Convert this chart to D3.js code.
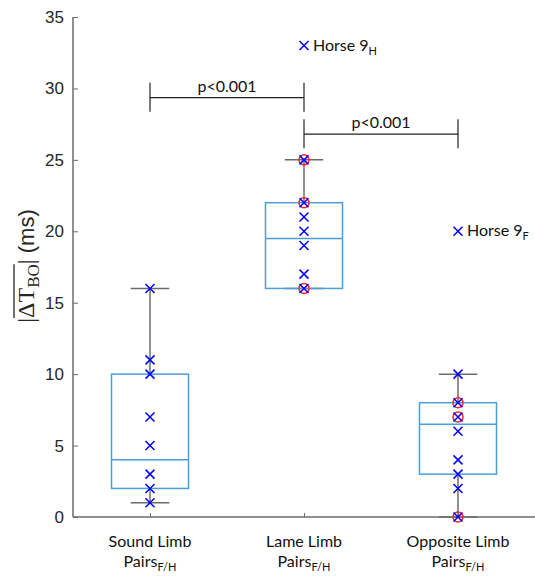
<!DOCTYPE html>
<html lang="en">
<head>
<meta charset="utf-8">
<style>
    html, body { margin: 0; padding: 0; background: #fff; }
    svg { display: block; }
    .tick text { font-family: "Liberation Sans", Arial, sans-serif; font-size: 17px; fill: #262626; }
    .note { font-family: Lato, "Open Sans", sans-serif; font-size: 16px; fill: #111; }
</style>
</head>
<body>
<script src="https://cdn.jsdelivr.net/npm/d3@7"></script>
<script>
(function () {
    var width = 535, height = 576;
    var margin = { left: 73, right: 0, top: 17, bottom: 59 };

    // groups and box stats
    var groups = ['Sound Limb', 'Lame Limb', 'Opposite Limb'];
    var boxQ1 = [2, 16, 3];
    var boxMedian = [4, 19.5, 6.5];
    var boxQ3 = [10, 22, 8];
    var whiskLow = [1, 16, 0];
    var whiskHigh = [16, 25, 10];

    // individual horses
    var soundPts = [1, 2, 3, 5, 7, 10, 11, 16];
    var lamePts = [16, 17, 19, 20, 21, 22, 25, 33];
    var oppositePts = [0, 2, 3, 4, 6, 7, 8, 10, 20];
    // overlapping values (circled)
    var lameDup = [16, 22, 25];
    var oppositeDup = [0, 7, 8];

    var yTicks = [0, 5, 10, 15, 20, 25, 30, 35];

    var svg = d3.select('body').append('svg')
        .attr('width', width)
        .attr('height', height);

    var x = d3.scaleLinear().domain([0.5, 3.5]).range([margin.left, width - margin.right]);
    var y = d3.scaleLinear().domain([0, 35]).range([height - margin.bottom, margin.top]);
    var unit = x(2) - x(1);

    // axes
    var yAxis = svg.append('g')
        .attr('transform', 'translate(' + margin.left + ',0)')
        .call(d3.axisLeft(y).tickValues(yTicks).tickSize(-5).tickPadding(9));
    var xAxis = svg.append('g')
        .attr('transform', 'translate(0,' + y(0) + ')')
        .call(d3.axisBottom(x).tickValues([1, 2, 3]).tickSize(-4).tickFormat(''));
    [yAxis, xAxis].forEach(function (a) {
        a.select('.domain').attr('stroke', '#6b6b6b').attr('stroke-width', 1.5);
        a.selectAll('.tick line').attr('stroke', '#6b6b6b');
    });
    yAxis.select('.domain').attr('d', 'M0,' + y(35) + 'V' + y(0));
    xAxis.select('.domain').attr('d', 'M' + x(0.5) + ',0H' + x(3.5));

    // box plots
    var g = svg.append('g');
    groups.forEach(function (name, i) {
        var cx = x(i + 1);
        var bw = unit * 0.25, cw = unit * 0.125;
        g.append('line').attr('x1', cx).attr('x2', cx)
            .attr('y1', y(boxQ3[i])).attr('y2', y(whiskHigh[i]))
            .attr('stroke', '#6b6b6b').attr('stroke-width', 1.5);
        g.append('line').attr('x1', cx).attr('x2', cx)
            .attr('y1', y(boxQ1[i])).attr('y2', y(whiskLow[i]))
            .attr('stroke', '#6b6b6b').attr('stroke-width', 1.5);
        [whiskLow[i], whiskHigh[i]].forEach(function (v) {
            g.append('line').attr('x1', cx - cw).attr('x2', cx + cw)
                .attr('y1', y(v)).attr('y2', y(v))
                .attr('stroke', '#6b6b6b').attr('stroke-width', 1.5);
        });
        g.append('rect')
            .attr('x', cx - bw).attr('width', 2 * bw)
            .attr('y', y(boxQ3[i])).attr('height', y(boxQ1[i]) - y(boxQ3[i]))
            .attr('fill', 'none').attr('stroke', '#4a9ede').attr('stroke-width', 1.5);
        g.append('line').attr('x1', cx - bw).attr('x2', cx + bw)
            .attr('y1', y(boxMedian[i])).attr('y2', y(boxMedian[i]))
            .attr('stroke', '#4a9ede').attr('stroke-width', 1.5);
    });

    // circles for overlapping points
    [[2, lameDup], [3, oppositeDup]].forEach(function (p) {
        g.selectAll(null).data(p[1]).enter().append('circle')
            .attr('cx', x(p[0])).attr('cy', function (d) { return y(d); })
            .attr('r', 5).attr('fill', 'none')
            .attr('stroke', '#ff2020').attr('stroke-width', 1.5);
    });

    // x markers
    var s = 4.5;
    [soundPts, lamePts, oppositePts].forEach(function (pts, i) {
        g.selectAll(null).data(pts).enter().append('path')
            .attr('d', function (d) {
                var px = x(i + 1), py = y(d);
                return 'M' + (px - s) + ',' + (py - s) + 'L' + (px + s) + ',' + (py + s) +
                    'M' + (px - s) + ',' + (py + s) + 'L' + (px + s) + ',' + (py - s);
            })
            .attr('stroke', '#0000ff').attr('stroke-width', 1.5).attr('fill', 'none');
    });

    // outlier labels
    function subLabel(px, py, main, sub) {
        var t = svg.append('text').attr('class', 'note').attr('x', px).attr('y', py);
        t.append('tspan').text(main);
        t.append('tspan').attr('dy', 4).style('font-size', '11px').text(sub);
        return t;
    }
    subLabel(x(2) + 9, y(33) + 5, 'Horse 9', 'H');
    subLabel(x(3) + 9, y(20) + 5, 'Horse 9', 'F');

    // significance brackets
    var brackets = [
        { a: 1, b: 2, v: 29.35, label: 'p<0.001' },
        { a: 2, b: 3, v: 26.8, label: 'p<0.001' }
    ];
    brackets.forEach(function (b) {
        var yy = y(b.v);
        var bg = svg.append('g').attr('stroke', '#222').attr('stroke-width', 1.2);
        bg.append('line').attr('x1', x(b.a)).attr('x2', x(b.b)).attr('y1', yy).attr('y2', yy);
        [b.a, b.b].forEach(function (k) {
            bg.append('line').attr('x1', x(k)).attr('x2', x(k)).attr('y1', yy - 15).attr('y2', yy + 14);
        });
        svg.append('text').attr('class', 'note')
            .attr('x', (x(b.a) + x(b.b)) / 2).attr('y', yy - 6)
            .attr('text-anchor', 'middle').text(b.label);
    });

    // category labels
    groups.forEach(function (name, i) {
        svg.append('text').attr('class', 'note')
            .attr('x', x(i + 1)).attr('y', 547).attr('text-anchor', 'middle').text(name);
        var t = svg.append('text').attr('class', 'note')
            .attr('x', x(i + 1)).attr('y', 567).attr('text-anchor', 'middle');
        t.append('tspan').text('Pairs');
        t.append('tspan').attr('dy', 4).style('font-size', '11px').text('F/H');
    });

    // y label: |ΔT_BO| (ms) with overline
    var lab = svg.append('g');
    var parts = [
        { t: '|', f: 'Liberation Serif', s: 24, dy: 0 },
        { t: '\u0394T', f: 'Liberation Serif', s: 24, dy: 0, over: true },
        { t: 'BO', f: 'Liberation Serif', s: 17, dy: 5, over: true },
        { t: '|', f: 'Liberation Serif', s: 24, dy: 0 },
        { t: '\u00a0(ms)', f: 'Liberation Sans', s: 22, dy: 0 }
    ];
    var cur = 0, o0 = null, o1 = 0;
    parts.forEach(function (p) {
        var el = lab.append('text').attr('x', cur).attr('y', p.dy)
            .style('font-family', p.f).style('font-size', p.s + 'px')
            .attr('fill', '#262626').text(p.t);
        var w = el.node().getComputedTextLength();
        if (p.over) { if (o0 === null) o0 = cur; o1 = cur + w; }
        cur += w;
    });
    lab.append('line').attr('x1', o0).attr('x2', o1).attr('y1', -20).attr('y2', -20)
        .attr('stroke', '#262626').attr('stroke-width', 1.3);
    lab.attr('transform', 'translate(34,' + (266 + cur / 2) + ') rotate(-90)');
})();
</script>
</body>
</html>
